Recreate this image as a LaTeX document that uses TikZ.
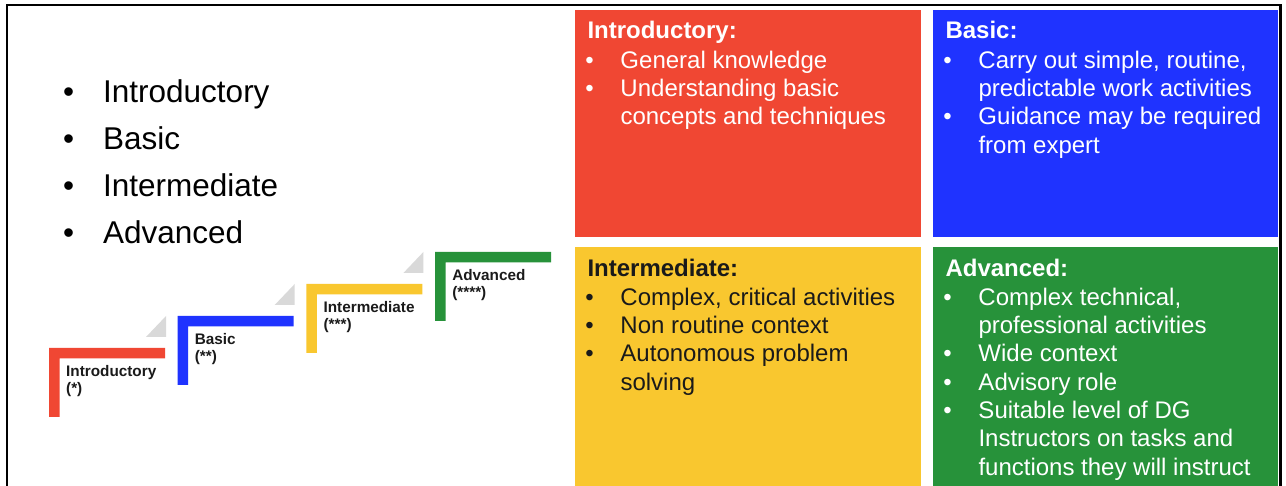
\documentclass[tikz,border=0pt]{standalone}
\usepackage{fontspec}
\setmainfont{Liberation Sans}
\usepackage{array}
\definecolor{cred}{HTML}{F04733}
\definecolor{cblue}{HTML}{1F33FF}
\definecolor{cyellow}{HTML}{F9C72F}
\definecolor{cgreen}{HTML}{27923A}
\definecolor{tri}{HTML}{D9D9D9}
\definecolor{ink}{HTML}{1A1A1A}
\newcommand{\bul}{\hspace*{-2.2pt}\textbullet}
\begin{document}
\begin{tikzpicture}[x=1pt,y=-1pt,
  panel/.style={anchor=north west, inner sep=0pt, outer sep=0pt, minimum width=346pt, draw=none},
  paneltext/.style={anchor=north west, inner sep=0pt, outer sep=0pt, font=\fontsize{24}{28.3}\selectfont},
  listitem/.style={anchor=base west, inner sep=0pt, font=\fontsize{31.5}{36}\selectfont, text=black},
  steplabel/.style={anchor=base west, inner sep=0pt, font=\fontsize{15.3}{17}\selectfont\bfseries, text=ink}]
\useasboundingbox (0,0) rectangle (1286,486);
\fill[white] (0,0) rectangle (1286,486);
\draw[line width=2.5pt] (7,486) -- (7,5) -- (1280.5,5) -- (1280.5,486);

% left bullet list
\node[listitem] (l1) at (103,103) {\llap{\textbullet\hspace{29pt}}Introductory};
\node[listitem] (l2) at (103,150) {\llap{\textbullet\hspace{29pt}}Basic};
\node[listitem] (l3) at (103,197) {\llap{\textbullet\hspace{29pt}}Intermediate};
\node[listitem] (l4) at (103,244) {\llap{\textbullet\hspace{29pt}}Advanced};

% stairs
\foreach \i/\c/\lname/\stars in {0/cred/Introductory/{(*)},1/cblue/Basic/{(**)},2/cyellow/Intermediate/{(***)},3/cgreen/Advanced/{(****)}}{
  \pgfmathsetmacro{\xo}{49+128.7*\i}
  \pgfmathsetmacro{\yo}{348-32*\i}
  \fill[\c] (\xo,\yo) -- ++(116,0) -- ++(0,10.5) -- ++(-105.5,0) -- ++(0,58.5) -- ++(-10.5,0) -- cycle;
  \node[steplabel] (name\i) at (\xo+17,\yo+29) {\lname};
  \node[steplabel] (stars\i) at (\xo+17,\yo+46) {\stars};
}
\foreach \i in {0,1,2}{
  \pgfmathsetmacro{\xo}{49+128.7*\i}
  \pgfmathsetmacro{\yo}{348-32*\i}
  \fill[tri] (\xo+97,\yo-11) -- (\xo+117,\yo-11) -- (\xo+117,\yo-32) -- cycle;
}

% panels
\node[panel, fill=cred, minimum height=227pt] (pred) at (575,10) {};
\node[panel, fill=cblue, minimum height=227pt, minimum width=345pt] (pblue) at (933,10) {};
\node[panel, fill=cyellow, minimum height=239pt] (pyellow) at (575,247) {};
\node[panel, fill=cgreen, minimum height=239pt, minimum width=345pt] (pgreen) at (933,247) {};

\node[paneltext, text=white] (tred) at (587.5,18.5) {%
\begin{tabular}{@{}p{33pt}@{}l@{}}
\multicolumn{2}{@{}l@{}}{\bfseries Introductory:}\\[1.5pt]
\bul & General knowledge\\
\bul & Understanding basic\\
 & concepts and techniques
\end{tabular}};

\node[paneltext, text=white] (tblue) at (945.5,18.5) {%
\begin{tabular}{@{}p{33pt}@{}l@{}}
\multicolumn{2}{@{}l@{}}{\bfseries Basic:}\\[1.5pt]
\bul & Carry out simple, routine,\\
 & predictable work activities\\
\bul & Guidance may be required\\
 & from expert
\end{tabular}};

\node[paneltext, text=ink] (tyellow) at (587.5,256.2) {%
\begin{tabular}{@{}p{33pt}@{}l@{}}
\multicolumn{2}{@{}l@{}}{\bfseries Intermediate:}\\[1pt]
\bul & Complex, critical activities\\
\bul & Non routine context\\
\bul & Autonomous problem\\
 & solving
\end{tabular}};

\node[paneltext, text=white] (tgreen) at (945.5,256.2) {%
\begin{tabular}{@{}p{33pt}@{}l@{}}
\multicolumn{2}{@{}l@{}}{\bfseries Advanced:}\\[1pt]
\bul & Complex technical,\\
 & professional activities\\
\bul & Wide context\\
\bul & Advisory role\\
\bul & Suitable level of DG\\
 & Instructors on tasks and\\
 & functions they will instruct
\end{tabular}};
\end{tikzpicture}
\end{document}
